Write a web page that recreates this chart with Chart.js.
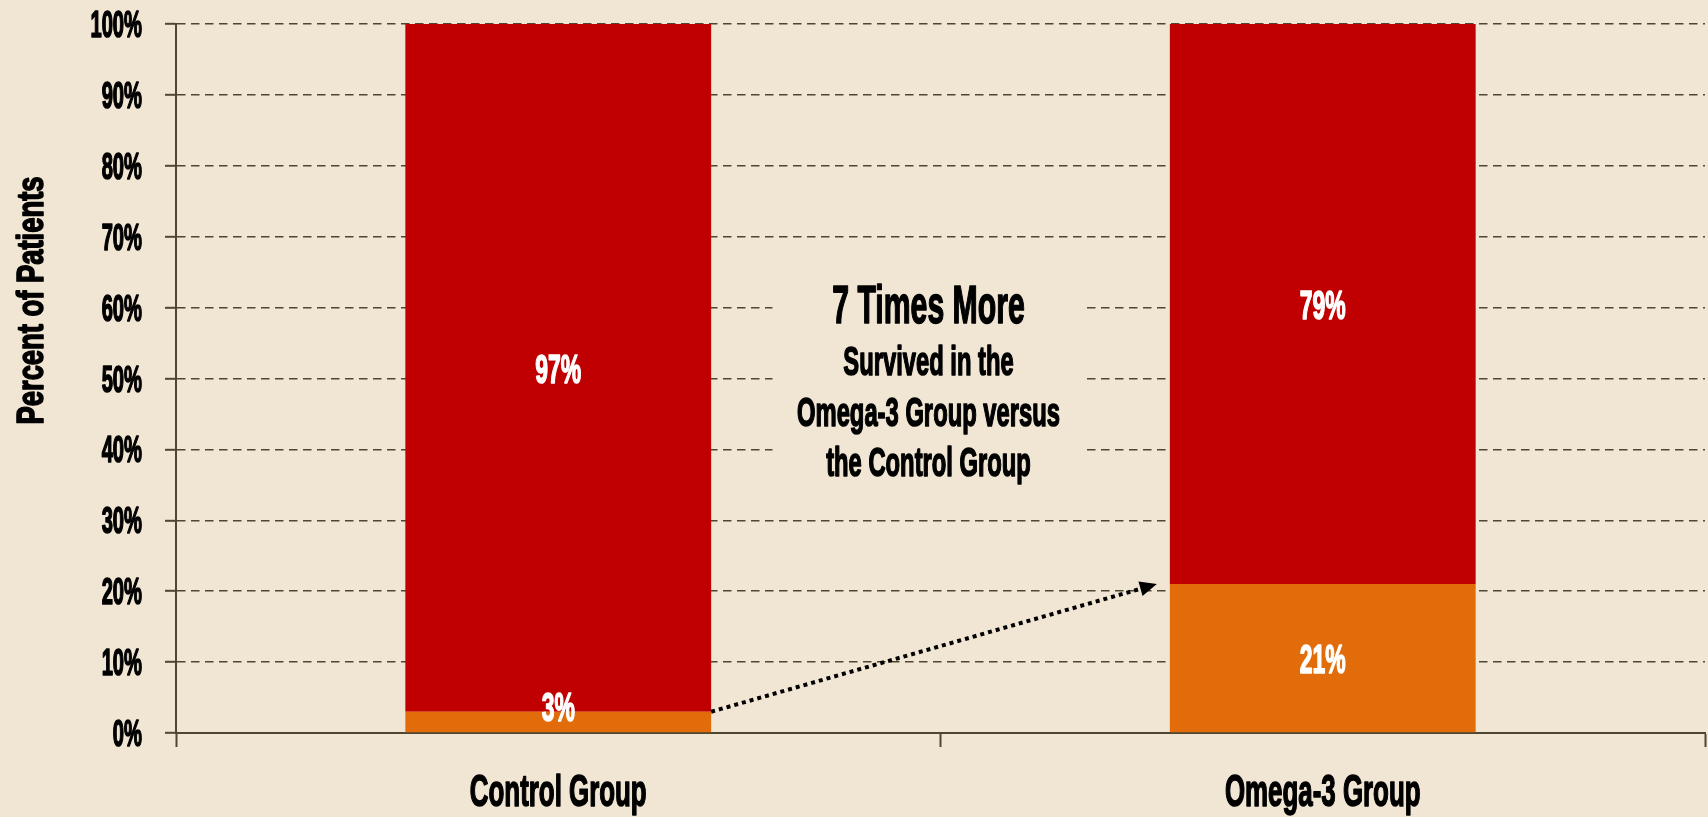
<!DOCTYPE html>
<html>
<head>
<meta charset="utf-8">
<script src="https://cdn.jsdelivr.net/npm/chart.js@4/dist/chart.umd.min.js"></script>
<style>
  html, body { margin: 0; padding: 0; background: #f1e6d3; }
  #wrap { width: 1708px; height: 817px; position: relative; }
</style>
</head>
<body>
<div id="wrap"><canvas id="survival_chart"></canvas></div>
<script>
const categories = ["Control Group", "Omega-3 Group"];
const survived = [3, 21];
const died = [97, 79];
const yTickValues = [0, 10, 20, 30, 40, 50, 60, 70, 80, 90, 100];
const yTitle = "Percent of Patients";
const noteHead = "7 Times More";
const noteLines = ["Survived in the", "Omega-3 Group versus", "the Control Group"];

const bg = "#f1e6d3";
const axisColor = "#4d4632";
const fontFamily = '"Liberation Sans", Arial, sans-serif';

const pct = (v) => v + "%";

// narrow bold text, the picture uses a condensed gothic face
function say(ctx, text, x, y, size, sx, align, color) {
  ctx.save();
  ctx.translate(x, y);
  ctx.scale(sx, 1);
  ctx.font = "bold " + size + "px " + fontFamily;
  ctx.fillStyle = color;
  ctx.strokeStyle = color;
  ctx.lineWidth = 1.6;
  ctx.lineJoin = "round";
  ctx.textAlign = align;
  ctx.textBaseline = "alphabetic";
  ctx.fillText(text, 0, 0);
  ctx.strokeText(text, 0, 0);
  ctx.restore();
}

const textPlugin = {
  id: "condensedText",
  afterDatasetsDraw(chart) {
    const ctx = chart.ctx;
    const xs = chart.scales.x;
    const ys = chart.scales.y;

    // value labels inside the bars
    chart.data.datasets.forEach((ds, di) => {
      chart.getDatasetMeta(di).data.forEach((el, i) => {
        const mid = Math.min((el.y + el.base) / 2, el.base - 26);
        say(ctx, pct(ds.data[i]), el.x, mid + 15, 41, 0.56, "center", "#ffffff");
      });
    });

    // note in the middle, on a plain box over the grid
    const cx = (xs.getPixelForValue(0) + xs.getPixelForValue(1)) / 2 - 12;
    const top = ys.getPixelForValue(68);
    const bottom = ys.getPixelForValue(34);
    ctx.save();
    ctx.fillStyle = bg;
    ctx.fillRect(cx - 156, top, 312, bottom - top);
    ctx.restore();
    const base = ys.getPixelForValue(57.8);
    say(ctx, noteHead, cx, base, 53, 0.57, "center", "#000000");
    noteLines.forEach((t, k) => {
      say(ctx, t, cx, base + 52 + k * 50.5, 41, 0.58, "center", "#000000");
    });

    // dotted arrow from control survivors to omega-3 survivors
    const a = chart.getDatasetMeta(0).data[0];
    const b = chart.getDatasetMeta(0).data[1];
    const x1 = a.x + a.width / 2, y1 = a.y;
    const x2 = b.x - b.width / 2 - 13, y2 = b.y;
    const ang = Math.atan2(y2 - y1, x2 - x1);
    const head = 17;
    ctx.save();
    ctx.strokeStyle = "#000000";
    ctx.lineWidth = 4;
    ctx.setLineDash([4, 4]);
    ctx.beginPath();
    ctx.moveTo(x1, y1);
    ctx.lineTo(x2 - head * Math.cos(ang), y2 - head * Math.sin(ang));
    ctx.stroke();
    ctx.setLineDash([]);
    ctx.fillStyle = "#000000";
    ctx.translate(x2, y2);
    ctx.rotate(ang);
    ctx.beginPath();
    ctx.moveTo(0, 0);
    ctx.lineTo(-head, -7.5);
    ctx.lineTo(-head, 7.5);
    ctx.closePath();
    ctx.fill();
    ctx.restore();
  },
  afterDraw(chart) {
    const ctx = chart.ctx;
    const xs = chart.scales.x;
    const ys = chart.scales.y;

    ys.ticks.forEach((t) => {
      const py = ys.getPixelForValue(t.value);
      say(ctx, pct(t.value), ys.right - 34, py + 13, 36, 0.56, "right", "#000000");
    });

    categories.forEach((c, i) => {
      say(ctx, c, xs.getPixelForValue(i), xs.top + 73, 45, 0.575, "center", "#000000");
    });

    ctx.save();
    ctx.translate(43, ys.getPixelForValue(61));
    ctx.rotate(-Math.PI / 2);
    say(ctx, yTitle, 0, 0, 37, 0.74, "center", "#000000");
    ctx.restore();
  }
};

const ctx = document.querySelector("#survival_chart");
const chart = new Chart(ctx, {
  type: "bar",
  data: {
    labels: categories,
    datasets: [
      {
        label: "Survived",
        data: survived,
        backgroundColor: "#e36c0a",
        barPercentage: 0.4,
        categoryPercentage: 1,
      },
      {
        label: "Died",
        data: died,
        backgroundColor: "#c00000",
        barPercentage: 0.4,
        categoryPercentage: 1,
      },
    ],
  },
  options: {
    responsive: true,
    maintainAspectRatio: false,
    devicePixelRatio: 1,
    animation: false,
    layout: { padding: { top: 24, right: 3, left: 0, bottom: 0 } },
    plugins: {
      legend: { display: false },
      tooltip: { enabled: false },
    },
    scales: {
      x: {
        stacked: true,
        offset: true,
        ticks: { display: false },
        grid: {
          offset: true,
          drawOnChartArea: false,
          tickLength: 14,
          tickWidth: 2,
          tickColor: axisColor,
        },
        border: { color: axisColor, width: 2 },
        afterFit: (s) => { s.height = 84; },
      },
      y: {
        stacked: true,
        min: 0,
        max: 100,
        afterBuildTicks: (s) => { s.ticks = yTickValues.map((v) => ({ value: v })); },
        ticks: { display: false },
        grid: {
          color: axisColor,
          lineWidth: 1.6,
          tickLength: 11,
          tickWidth: 2,
          tickColor: axisColor,
          tickBorderDash: [],
        },
        border: { color: axisColor, width: 2, dash: [8.5, 5.5] },
        afterFit: (s) => { s.width = 176; },
      },
    },
  },
  plugins: [textPlugin],
});
</script>
</body>
</html>
